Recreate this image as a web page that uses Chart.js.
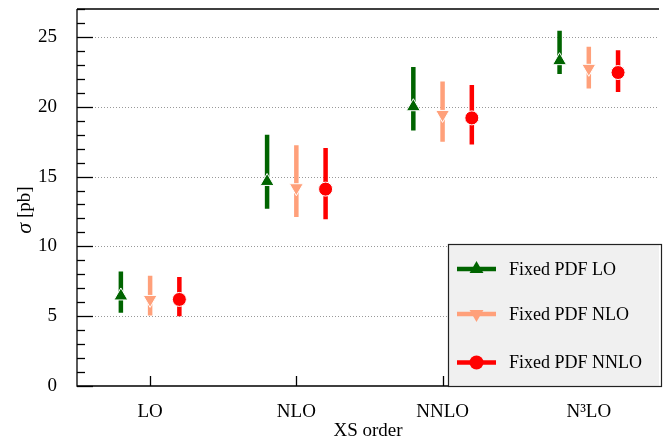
<!DOCTYPE html>
<html>
<head>
<meta charset="utf-8">
<script src="https://cdn.jsdelivr.net/npm/chart.js@4.4.1/dist/chart.umd.min.js"></script>
<style>
  html, body { margin: 0; padding: 0; background: #fff; overflow: hidden; }
  canvas { display: block; }
</style>
</head>
<body>
<canvas id="xsChart" width="668" height="445"></canvas>
<script>
// categories and tick labels
var categories = ['LO', 'NLO', 'NNLO', 'N\u00B3LO'];
var yTicks = [0, 5, 10, 15, 20, 25];

// Fixed PDF LO (green)
var loCentral = [6.45, 14.65, 20.0, 23.3];
var loLow     = [5.25, 12.7, 18.3, 22.35];
var loHigh    = [8.2, 18.0, 22.85, 25.45];

// Fixed PDF NLO (orange)
var nloCentral = [6.2, 14.2, 19.45, 22.75];
var nloLow     = [5.05, 12.1, 17.5, 21.3];
var nloHigh    = [7.9, 17.25, 21.8, 24.3];

// Fixed PDF NNLO (red)
var nnloCentral = [6.2, 14.1, 19.2, 22.45];
var nnloLow     = [5.0, 11.95, 17.3, 21.05];
var nnloHigh    = [7.8, 17.05, 21.55, 24.05];

var series = [
    { label: 'Fixed PDF LO',   color: '#006400', style: 'triangle', rot: 0,   radius: 8,   offset: -0.2, c: loCentral,   lo: loLow,   hi: loHigh },
    { label: 'Fixed PDF NLO',  color: '#FFA07A', style: 'triangle', rot: 180, radius: 8,   offset: 0,    c: nloCentral,  lo: nloLow,  hi: nloHigh },
    { label: 'Fixed PDF NNLO', color: '#FF0000', style: 'circle',   rot: 0,   radius: 7,   offset: 0.2,  c: nnloCentral, lo: nnloLow, hi: nnloHigh }
];

var FONT = "'Liberation Serif', 'DejaVu Serif', serif";

var datasets = [];
series.forEach(function (s) {
    // error bars: one segment per category, broken by null points
    var bars = [];
    categories.forEach(function (c, i) {
        bars.push({ x: i + s.offset, y: s.lo[i] });
        bars.push({ x: i + s.offset, y: s.hi[i] });
        bars.push({ x: i + s.offset, y: null });
    });
    datasets.push({
        data: bars,
        borderColor: s.color,
        borderWidth: 4.5,
        borderCapStyle: 'butt',
        pointRadius: 0,
        spanGaps: false,
        order: 2
    });
    // central markers
    datasets.push({
        data: s.c.map(function (v, i) { return { x: i + s.offset, y: v }; }),
        showLine: false,
        pointStyle: s.style,
        rotation: s.rot,
        pointRadius: s.radius,
        pointBackgroundColor: s.color,
        pointBorderColor: '#ffffff',
        pointBorderWidth: 1,
        order: 1
    });
});

// frame, inward ticks, dotted grid
var framePlugin = {
    id: 'frame',
    beforeDatasetsDraw: function (chart) {
        var ctx = chart.ctx, a = chart.chartArea;
        var ys = chart.scales.y, xs = chart.scales.x;
        ctx.save();
        ctx.strokeStyle = '#999';
        ctx.lineWidth = 1;
        ctx.setLineDash([1, 2]);
        yTicks.forEach(function (v) {
            if (v === 0) return;
            var py = Math.round(ys.getPixelForValue(v)) + 0.5;
            ctx.beginPath();
            ctx.moveTo(a.left, py);
            ctx.lineTo(a.right, py);
            ctx.stroke();
        });
        ctx.setLineDash([]);
        ctx.strokeStyle = '#000';
        ctx.lineWidth = 1.3;
        for (var v = 0; v <= 27; v++) {
            var py = Math.round(ys.getPixelForValue(v)) + 0.5;
            var len = (v % 5 === 0) ? 16 : 8;
            ctx.beginPath();
            ctx.moveTo(a.left, py);
            ctx.lineTo(a.left + len, py);
            ctx.stroke();
        }
        categories.forEach(function (c, i) {
            var px = Math.round(xs.getPixelForValue(i)) + 0.5;
            ctx.beginPath();
            ctx.moveTo(px, a.bottom);
            ctx.lineTo(px, a.bottom - 10);
            ctx.stroke();
        });
        ctx.beginPath();
        ctx.moveTo(a.left, a.top);
        ctx.lineTo(a.right, a.top);
        ctx.moveTo(a.left, a.top);
        ctx.lineTo(a.left, a.bottom);
        ctx.lineTo(a.right, a.bottom);
        ctx.stroke();
        ctx.restore();
    },
    afterDatasetsDraw: function (chart) {
        var ctx = chart.ctx, a = chart.chartArea;
        // legend box
        var bx = 448, by = 244;
        ctx.save();
        ctx.fillStyle = '#f0f0f0';
        ctx.fillRect(bx, by, a.right - bx, a.bottom - by);
        ctx.strokeStyle = '#222';
        ctx.lineWidth = 1.2;
        ctx.strokeRect(bx + 0.5, by + 0.5, a.right - bx + 2, a.bottom - by);
        var rows = [269, 314, 362.5];
        series.forEach(function (s, k) {
            var y = rows[k];
            ctx.strokeStyle = s.color;
            ctx.lineWidth = 4.5;
            ctx.beginPath();
            ctx.moveTo(457, y);
            ctx.lineTo(496, y);
            ctx.stroke();
            ctx.fillStyle = s.color;
            ctx.beginPath();
            if (s.style === 'circle') {
                ctx.arc(476.5, y, s.radius, 0, Math.PI * 2);
            } else {
                var r = s.radius, sgn = s.rot ? -1 : 1;
                ctx.moveTo(476.5, y - sgn * r);
                ctx.lineTo(476.5 + r * 0.866, y + sgn * r * 0.5);
                ctx.lineTo(476.5 - r * 0.866, y + sgn * r * 0.5);
                ctx.closePath();
            }
            ctx.fill();
            ctx.fillStyle = '#000';
            ctx.font = '18px ' + FONT;
            ctx.textBaseline = 'middle';
            ctx.textAlign = 'left';
            ctx.fillText(s.label, 509, y + 1);
        });
        ctx.restore();
    },
    afterDraw: function (chart) {
        // y axis title with italic sigma
        var ctx = chart.ctx;
        ctx.save();
        ctx.translate(25, 210);
        ctx.rotate(-Math.PI / 2);
        ctx.fillStyle = '#000';
        ctx.textBaseline = 'middle';
        ctx.textAlign = 'left';
        ctx.font = 'italic 22px ' + FONT;
        var w1 = ctx.measureText('\u03C3').width;
        ctx.font = '19px ' + FONT;
        var w2 = ctx.measureText(' [pb]').width;
        var x0 = -(w1 + w2) / 2;
        ctx.font = 'italic 22px ' + FONT;
        ctx.fillText('\u03C3', x0, 0);
        ctx.font = '19px ' + FONT;
        ctx.fillText(' [pb]', x0 + w1, 0);
        ctx.restore();
    }
};

Chart.defaults.color = '#000';
Chart.defaults.font.family = FONT;

var ctx = document.getElementById('xsChart').getContext('2d');
var xsChart = new Chart(ctx, {
    type: 'line',
    data: { datasets: datasets },
    options: {
        responsive: false,
        animation: false,
        devicePixelRatio: 1,
        layout: { padding: { top: 7, right: 0, left: 0, bottom: 0 } },
        plugins: {
            legend: { display: false },
            tooltip: { enabled: false }
        },
        scales: {
            x: {
                type: 'linear',
                min: -0.5,
                max: 3.48,
                grid: { display: false },
                border: { display: false },
                afterBuildTicks: function (scale) {
                    scale.ticks = categories.map(function (c, i) { return { value: i }; });
                },
                afterFit: function (scale) {
                    scale.height = 59;
                    scale.paddingLeft = 0;
                    scale.paddingRight = 0;
                },
                ticks: {
                    padding: 7,
                    maxRotation: 0,
                    font: { size: 19 },
                    callback: function (value) { return categories[value]; }
                },
                title: {
                    display: true,
                    text: 'XS order',
                    font: { size: 19 },
                    padding: { top: 0, bottom: 3 }
                }
            },
            y: {
                min: 0,
                max: 27,
                grid: { display: false },
                border: { display: false },
                afterBuildTicks: function (scale) {
                    scale.ticks = yTicks.map(function (v) { return { value: v }; });
                },
                afterFit: function (scale) {
                    scale.width = 77;
                    scale.paddingTop = 0;
                    scale.paddingBottom = 0;
                },
                ticks: {
                    padding: 12,
                    font: { size: 19 }
                }
            }
        }
    },
    plugins: [framePlugin]
});
</script>
</body>
</html>
